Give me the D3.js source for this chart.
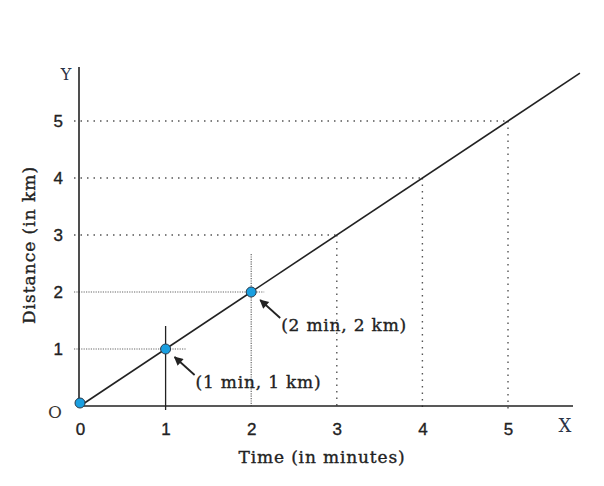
<!DOCTYPE html>
<html>
<head>
<meta charset="utf-8">
<script src="https://cdn.jsdelivr.net/npm/d3@7"></script>
<style>
  body { margin: 0; background: #fff; }
  svg { font-family: "DejaVu Serif", "Liberation Serif", serif; }
  .txt { stroke: #222; stroke-width: 0.35px; }
</style>
</head>
<body>
<svg id="chart" width="604" height="486"></svg>
<script>
// values
const timeTicks = [0, 1, 2, 3, 4, 5];
const distTicks = [1, 2, 3, 4, 5];
const markTimes = [0, 1, 2];
const markDists = [0, 1, 2];
const lineTimes = [0, 5.84];
const lineDists = [0, 5.84];
const markLabels = ['', '(1 min, 1 km)', '(2 min, 2 km)'];

const svg = d3.select('#chart');

const x = d3.scaleLinear().domain([0, 5]).range([80, 508]);
const y = d3.scaleLinear().domain([0, 5]).range([406, 121]);

const ink = '#222';

// arrow head
svg.append('defs').append('marker')
  .attr('id', 'arr')
  .attr('viewBox', '0 0 10 10')
  .attr('refX', 9).attr('refY', 5)
  .attr('markerWidth', 10).attr('markerHeight', 9)
  .attr('markerUnits', 'userSpaceOnUse')
  .attr('orient', 'auto')
  .append('path')
  .attr('d', 'M0,0 L10,5 L0,10 z')
  .attr('fill', ink);

const guides = svg.append('g').attr('class', 'guides');

// guides for 3, 4, 5: sparse dots
[3, 4, 5].forEach((v) => {
  guides.append('line')
    .attr('x1', x(0) - 6).attr('x2', x(v))
    .attr('y1', y(v)).attr('y2', y(v))
    .attr('stroke', '#555').attr('stroke-width', 1.4)
    .attr('stroke-dasharray', '1.5,5');
  guides.append('line')
    .attr('x1', x(v)).attr('x2', x(v))
    .attr('y1', y(v)).attr('y2', y(0) + 4)
    .attr('stroke', '#555').attr('stroke-width', 1.4)
    .attr('stroke-dasharray', '1.5,5');
});

// guides for 1 and 2: fine dots, a bit past the point
guides.append('line')
  .attr('x1', x(0) - 6).attr('x2', x(1) + 20)
  .attr('y1', y(1)).attr('y2', y(1))
  .attr('stroke', '#666').attr('stroke-width', 1.2)
  .attr('stroke-dasharray', '1.2,1.2');
guides.append('line')
  .attr('x1', x(0) - 6).attr('x2', x(2) + 13)
  .attr('y1', y(2)).attr('y2', y(2))
  .attr('stroke', '#666').attr('stroke-width', 1.2)
  .attr('stroke-dasharray', '1.2,1.2');
guides.append('line')
  .attr('x1', x(2)).attr('x2', x(2))
  .attr('y1', y(2) - 38).attr('y2', y(0))
  .attr('stroke', '#666').attr('stroke-width', 1.2)
  .attr('stroke-dasharray', '1.2,1.2');
// solid marker at t = 1
guides.append('line')
  .attr('x1', x(1)).attr('x2', x(1))
  .attr('y1', y(1) - 23).attr('y2', y(0) + 4)
  .attr('stroke', ink).attr('stroke-width', 1.3);

// axes
const xAxis = d3.axisBottom(x).tickValues(timeTicks)
  .tickFormat(d3.format('d')).tickSize(0).tickPadding(17);
const gx = svg.append('g')
  .attr('transform', `translate(0,${y(0)})`)
  .call(xAxis);
gx.select('.domain').remove();
gx.selectAll('text').attr('class', 'txt').attr('font-size', 17).attr('fill', ink);

const yAxis = d3.axisLeft(y).tickValues(distTicks)
  .tickFormat(d3.format('d')).tickSize(0).tickPadding(16);
const gy = svg.append('g')
  .attr('transform', `translate(${x(0) - 1},0)`)
  .call(yAxis);
gy.select('.domain').remove();
gy.selectAll('text').attr('class', 'txt').attr('font-size', 17).attr('fill', ink);

svg.append('line')
  .attr('x1', x(0) - 1).attr('x2', 573)
  .attr('y1', y(0)).attr('y2', y(0))
  .attr('stroke', ink).attr('stroke-width', 1.6);
svg.append('line')
  .attr('x1', x(0) - 1).attr('x2', x(0) - 1)
  .attr('y1', 67).attr('y2', y(0))
  .attr('stroke', ink).attr('stroke-width', 1.6);

// axis letters
svg.append('text').attr('x', 66).attr('y', 80).attr('text-anchor', 'middle')
  .attr('font-size', 16).attr('fill', '#2b3346').text('Y');
svg.append('text').attr('x', 565).attr('y', 432).attr('text-anchor', 'middle')
  .attr('font-size', 18).attr('fill', '#2b3346').text('X');
svg.append('text').attr('x', 55).attr('y', 418).attr('text-anchor', 'middle')
  .attr('font-size', 17).attr('fill', '#3a3530').text('O');

// titles
svg.append('text')
  .attr('class', 'txt')
  .attr('x', 322).attr('y', 463)
  .attr('text-anchor', 'middle')
  .attr('font-size', 17).attr('letter-spacing', 0.85).attr('fill', ink)
  .text('Time (in minutes)');
svg.append('text')
  .attr('class', 'txt')
  .attr('transform', 'translate(35,245) rotate(-90)')
  .attr('text-anchor', 'middle')
  .attr('font-size', 17).attr('letter-spacing', 1).attr('fill', ink)
  .text('Distance (in km)');

// the straight line
const line = d3.line().x((d) => x(d[0])).y((d) => y(d[1]));
svg.append('path')
  .datum(d3.zip(lineTimes, lineDists))
  .attr('d', line)
  .attr('fill', 'none')
  .attr('stroke', ink)
  .attr('stroke-width', 1.6);

// arrows + labels
const pts = d3.zip(markTimes, markDists, markLabels).filter((d) => d[2]);
pts.forEach((d) => {
  const px = x(d[0]);
  const py = y(d[1]);
  svg.append('line')
    .attr('x1', px + 29).attr('y1', py + 26)
    .attr('x2', px + 9).attr('y2', py + 8)
    .attr('stroke', ink).attr('stroke-width', 1.8)
    .attr('marker-end', 'url(#arr)');
  svg.append('text')
    .attr('class', 'txt')
    .attr('x', px + 30).attr('y', py + 39)
    .attr('font-size', 17).attr('letter-spacing', 0.8).attr('fill', ink)
    .text(d[2]);
});

// blue points
svg.append('g')
  .selectAll('circle')
  .data(d3.zip(markTimes, markDists))
  .join('circle')
  .attr('cx', (d) => x(d[0]))
  .attr('cy', (d) => y(d[1]) - (d[1] === 0 ? 3 : 0))
  .attr('r', 5)
  .attr('fill', '#1a9fe0')
  .attr('stroke', '#2a3a4a')
  .attr('stroke-width', 1);
</script>
</body>
</html>
